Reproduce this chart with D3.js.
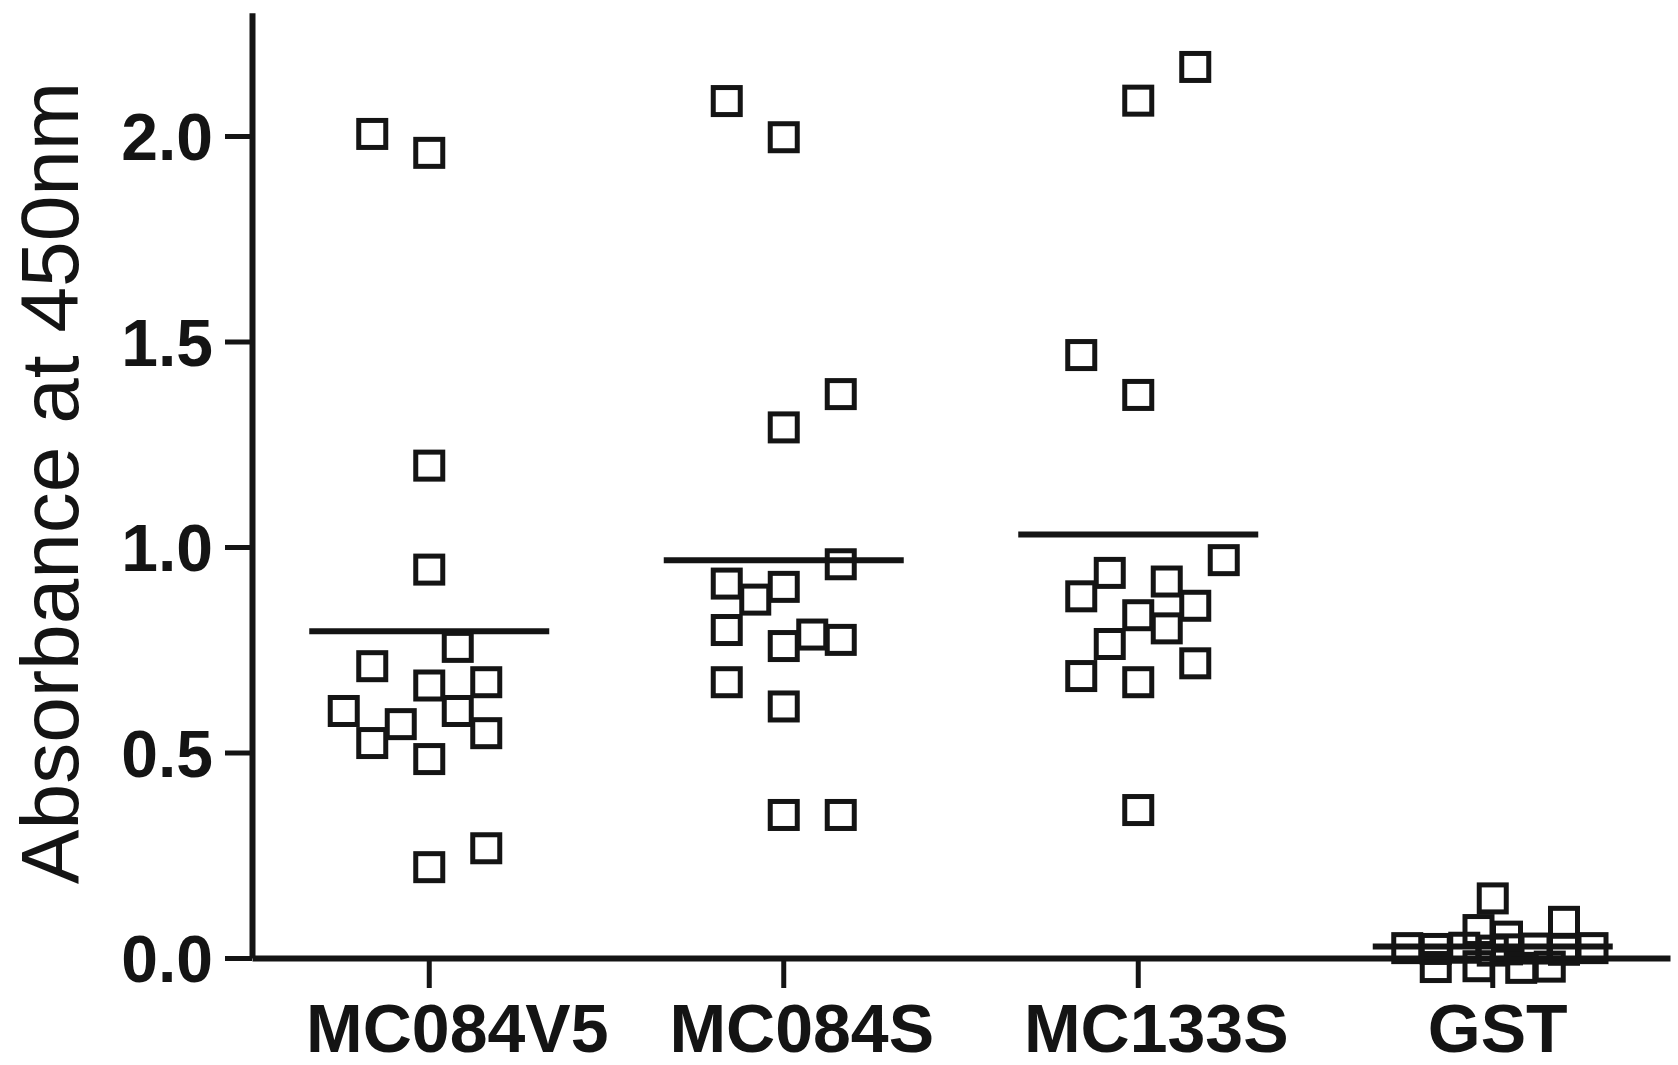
<!DOCTYPE html>
<html>
<head>
<meta charset="utf-8">
<script src="https://cdn.jsdelivr.net/npm/d3@7"></script>
<style>
  html, body { margin: 0; padding: 0; background: #fff; }
  svg { display: block; }
</style>
</head>
<body>
<svg id="chart" width="1678" height="1065"></svg>
<script>
// Antigen groups tested by ELISA
const categories = ["MC084V5", "MC084S", "MC133S", "GST"];

// Absorbance at 450 nm, one value per serum sample
const valuesMC084V5 = [2.005, 1.959, 1.198, 0.945, 0.757, 0.710, 0.663, 0.671, 0.601, 0.601, 0.569, 0.523, 0.547, 0.484, 0.221, 0.267];
const valuesMC084S  = [2.085, 1.997, 1.372, 1.291, 0.958, 0.911, 0.903, 0.872, 0.798, 0.787, 0.774, 0.759, 0.671, 0.612, 0.348, 0.348];
const valuesMC133S  = [2.168, 2.086, 1.467, 1.370, 0.968, 0.937, 0.916, 0.880, 0.857, 0.834, 0.802, 0.764, 0.717, 0.686, 0.671, 0.360];
const valuesGST     = [0.145, 0.088, 0.068, 0.052, 0.024, 0.022, 0.025, 0.021, 0.023, 0.020, 0.024, 0.018, -0.022, -0.020, -0.024, -0.021];

// Scatter lane of each sample within its column (beeswarm-style spread)
const lanesMC084V5 = [-2, 0, 0, 0, 1, -2, 0, 2, 1, -3, -1, -2, 2, 0, 0, 2];
const lanesMC084S  = [-2, 0, 2, 0, 2, -2, 0, -1, -2, 1, 2, 0, -2, 0, 0, 2];
const lanesMC133S  = [2, 0, -2, 0, 3, -1, 1, -2, 2, 0, 1, -1, 2, -2, 0, 0];
const lanesGST     = [0, 2.5, -0.5, 0.5, -3, -2, -1, 0.5, 1.5, 2.5, 3.5, 0, -2, -0.5, 1, 2];

const yTicks = [0, 0.5, 1.0, 1.5, 2.0];
const yTitle = "Absorbance at 450nm";

const groups = [
  { name: categories[0], values: valuesMC084V5, lanes: lanesMC084V5 },
  { name: categories[1], values: valuesMC084S,  lanes: lanesMC084S },
  { name: categories[2], values: valuesMC133S,  lanes: lanesMC133S },
  { name: categories[3], values: valuesGST,     lanes: lanesGST }
];

const ink = "#141414";
const font = "'Liberation Sans', Arial, Helvetica, sans-serif";

const svg = d3.select("#chart");

const x = d3.scaleBand().domain(categories).range([252, 1670]).padding(0);
const y = d3.scaleLinear().domain([0, 2.3]).range([958, 958 - 2.3 * 411]);
const lane = d3.scaleLinear().domain([0, 1]).range([0, 28.5]);

// Y axis
const yAxis = svg.append("g")
  .attr("transform", "translate(252,0)")
  .call(d3.axisLeft(y).tickValues(yTicks).tickFormat(d3.format(".1f")).tickSize(27).tickSizeOuter(0).tickPadding(12));
yAxis.select(".domain").attr("stroke", ink).attr("stroke-width", 6);
yAxis.selectAll(".tick line").attr("stroke", ink).attr("stroke-width", 5);
yAxis.selectAll(".tick text")
  .attr("fill", ink)
  .style("font-family", font)
  .style("font-weight", "bold")
  .style("font-size", "66px")
  .attr("dy", "0.36em");

// X axis; category labels sit slightly right of their ticks
const labelShift = [28, 18, 18, 5];
const xAxis = svg.append("g")
  .attr("transform", "translate(0,958)")
  .call(d3.axisBottom(x).tickSize(30).tickSizeOuter(0).tickPadding(16));
xAxis.select(".domain").attr("stroke", ink).attr("stroke-width", 6);
xAxis.selectAll(".tick line").attr("stroke", ink).attr("stroke-width", 5);
xAxis.selectAll(".tick text")
  .attr("fill", ink)
  .attr("dx", (d, i) => labelShift[i])
  .style("font-family", font)
  .style("font-weight", "bold")
  .style("font-size", "68px");

// Y axis title
svg.append("text")
  .attr("transform", "translate(78,483) rotate(-90)")
  .attr("text-anchor", "middle")
  .attr("fill", ink)
  .style("font-family", font)
  .style("font-size", "82px")
  .text(yTitle);

// Sample markers: open squares
const boxSize = 27;
const plot = svg.append("g");
groups.forEach(g => {
  const cx = x(g.name) + x.bandwidth() / 2;
  plot.append("g")
    .selectAll("rect")
    .data(g.values.map((v, i) => ({ v, l: g.lanes[i] })))
    .join("rect")
    .attr("x", d => cx + lane(d.l) - boxSize / 2)
    .attr("y", d => y(d.v) - boxSize / 2)
    .attr("width", boxSize)
    .attr("height", boxSize)
    .attr("fill", "none")
    .attr("stroke", ink)
    .attr("stroke-width", 5);
});

// Group mean lines
groups.forEach(g => {
  const cx = x(g.name) + x.bandwidth() / 2;
  const m = d3.mean(g.values);
  plot.append("line")
    .attr("x1", cx - 120)
    .attr("x2", cx + 120)
    .attr("y1", y(m))
    .attr("y2", y(m))
    .attr("stroke", ink)
    .attr("stroke-width", 6);
});
</script>
</body>
</html>
